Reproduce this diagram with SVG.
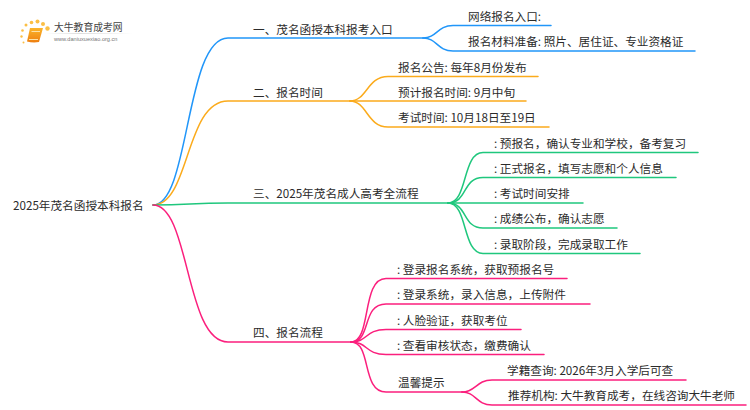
<svg xmlns="http://www.w3.org/2000/svg" width="750" height="410" viewBox="0 0 750 410">
<defs>
<linearGradient id="bk" x1="0" y1="0" x2="0" y2="1"><stop offset="0" stop-color="#fbb52a"/><stop offset="1" stop-color="#ee7f10"/></linearGradient>
<linearGradient id="ul" x1="0" y1="0" x2="1" y2="0"><stop offset="0" stop-color="#ddd" stop-opacity="0"/><stop offset=".4" stop-color="#ddd"/><stop offset="1" stop-color="#ddd" stop-opacity="0"/></linearGradient>
</defs>
<style>
text{font-family:"Noto Sans CJK SC","Liberation Sans",sans-serif;font-size:11.65px;fill:#2b2b2b}
#connectors path{fill:none;stroke-width:1.5;stroke-linecap:round}
.a{stroke:#2196f9}.b{stroke:#fbab1c}.c{stroke:#1fc77d}.d{stroke:#fb1f7d}
.dot{fill:#fbbf45}
</style>
<rect width="750" height="410" fill="#fff"/>
<g id="connectors">
<path class="a" d="M153 205C190 205 185 38 228 38H423"/>
<path class="b" d="M153 205C190 205 185 101 228 101H350"/>
<path class="c" d="M153 205C190 205 190 203 228 203H448"/>
<path class="d" d="M153 205C190 205 185 342 228 342H351"/>
<path class="a" d="M423 38C437 38 437 25.500 453 25.500H551"/>
<path class="a" d="M423 38C437 38 437 51 453 51H695"/>
<path class="b" d="M350 101C367 101 367 76.500 388 76.500H538"/>
<path class="b" d="M350 101H526"/>
<path class="b" d="M350 101C367 101 367 127 388 127H549"/>
<path class="c" d="M448 203C468 203 462 152.500 483 152.500H698"/>
<path class="c" d="M448 203C468 203 462 177.500 483 177.500H676"/>
<path class="c" d="M448 203H583"/>
<path class="c" d="M448 203C468 203 462 228 483 228H617"/>
<path class="c" d="M448 203C468 203 462 253.500 483 253.500H640"/>
<path class="d" d="M351 342C372 342 361 278.500 386 278.500H567"/>
<path class="d" d="M351 342C372 342 361 304 386 304H590"/>
<path class="d" d="M351 342C368 342 365 329.500 386 329.500H521"/>
<path class="d" d="M351 342C368 342 365 354.500 386 354.500H544"/>
<path class="d" d="M351 342C372 342 361 392 386 392H462"/>
<path class="d" d="M462 392C476 392 476 380 492 380H686"/>
<path class="d" d="M462 392C476 392 476 405 492 405H746"/>
</g>
<g id="logo">
<circle class="dot" cx="26" cy="25" r="1.500"/><circle class="dot" cx="31.500" cy="22.500" r="1.800"/><circle class="dot" cx="37.500" cy="21.500" r="2"/><circle class="dot" cx="43" cy="24" r="2"/><circle class="dot" cx="47.500" cy="28.500" r="2.200"/><circle class="dot" cx="22.500" cy="30.500" r="1.300"/><circle class="dot" cx="21.500" cy="36.500" r="1.200"/><circle class="dot" cx="23.500" cy="42.500" r="1"/>
<path d="M30 28H43L39 42Q33 43 27 41.500Z" fill="url(#bk)"/>
<path d="M31.500 31.500H40M29 39.500H38" fill="none" stroke="#fde3a8" stroke-width="1"/>
<text x="54" y="31" style="font-size:9.800px;fill:#444">大牛教育成考网</text>
<text x="54" y="41" style="font-size:5.600px;fill:#777;font-family:'Liberation Sans',sans-serif">www.daniuxuexiao.org.cn</text>
<rect x="45" y="33" width="88" height="1" fill="url(#ul)"/>
</g>
<g id="root"><text x="13" y="209.500">2025年茂名函授本科报名</text></g>
<g id="n1"><text x="253" y="33.500">一、茂名函授本科报考入口</text></g>
<g id="n1a"><text x="468" y="20.500">网络报名入口:</text></g>
<g id="n1b"><text x="468" y="46">报名材料准备: 照片、居住证、专业资格证</text></g>
<g id="n2"><text x="253" y="96.500">二、报名时间</text></g>
<g id="n2a"><text x="398" y="71.500">报名公告: 每年8月份发布</text></g>
<g id="n2b"><text x="398" y="96.500">预计报名时间: 9月中旬</text></g>
<g id="n2c"><text x="398" y="122">考试时间: 10月18日至19日</text></g>
<g id="n3"><text x="253" y="198">三、2025年茂名成人高考全流程</text></g>
<g id="n3a"><text x="494" y="147.500">: 预报名，确认专业和学校，备考复习</text></g>
<g id="n3b"><text x="494" y="172.500">: 正式报名，填写志愿和个人信息</text></g>
<g id="n3c"><text x="494" y="198">: 考试时间安排</text></g>
<g id="n3d"><text x="494" y="223">: 成绩公布，确认志愿</text></g>
<g id="n3e"><text x="494" y="248.500">: 录取阶段，完成录取工作</text></g>
<g id="n4"><text x="253" y="337">四、报名流程</text></g>
<g id="n4a"><text x="397" y="273.500">: 登录报名系统，获取预报名号</text></g>
<g id="n4b"><text x="397" y="299">: 登录系统，录入信息，上传附件</text></g>
<g id="n4c"><text x="397" y="324.500">: 人脸验证，获取考位</text></g>
<g id="n4d"><text x="397" y="349.500">: 查看审核状态，缴费确认</text></g>
<g id="n4e"><text x="398" y="387">温馨提示</text></g>
<g id="n4e1"><text x="507" y="375">学籍查询: 2026年3月入学后可查</text></g>
<g id="n4e2"><text x="508" y="400">推荐机构: 大牛教育成考，在线咨询大牛老师</text></g>
</svg>
